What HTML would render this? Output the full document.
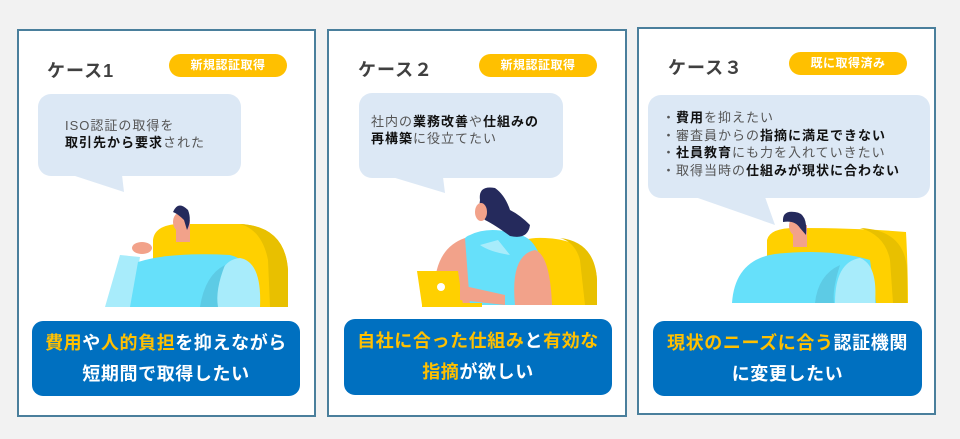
<!DOCTYPE html>
<html><head><meta charset="utf-8"><style>
body{margin:0;width:960px;height:439px;background:#f2f2f2;position:relative;overflow:hidden;font-family:"Liberation Sans","Noto Sans CJK JP",sans-serif}
.p{position:absolute;background:#fff;border:2px solid #4a7f9c;box-sizing:border-box}
.a{position:absolute}
.t{font-size:18px;font-weight:bold;color:#404040;white-space:nowrap;letter-spacing:1px}
.bd{background:#FFC000;color:#fff;border-radius:12px;font-size:12px;font-weight:bold;text-align:center;line-height:23px;height:23px;width:118px;letter-spacing:0.5px}
.bb{background:#dce8f5;border-radius:13px}
.bt{font-size:13px;color:#555;line-height:17px;white-space:nowrap;letter-spacing:1px}
.bt b{color:#111}
.bl{background:#0070C0;border-radius:11px;color:#fff;font-size:18px;font-weight:bold;text-align:center;line-height:31px;padding-top:7px;box-sizing:border-box;white-space:nowrap;letter-spacing:0.6px}
.y{color:#FFC000}
</style></head><body>
<div class="p" style="left:17px;top:29px;width:299px;height:388px"></div>
<div class="p" style="left:327px;top:29px;width:300px;height:388px"></div>
<div class="p" style="left:637px;top:27px;width:299px;height:388px"></div>

<svg class="a" style="left:0;top:0" width="960" height="439">
<polygon points="72,175 122,175 124,192" fill="#dce8f5"/>
<polygon points="392,177 443,177 445,193" fill="#dce8f5"/>
<polygon points="695,197 765,197 775,225" fill="#dce8f5"/>
<path d="M153,307 L153,240 Q155,222 190,224 L240,224 Q285,226 288,270 L288,307Z" fill="#FFD000"/>
<path d="M240,224 Q285,226 288,270 L288,307 L270,307 L268,260 Q262,230 240,224Z" fill="#E8C000"/>
<rect x="176" y="220" width="14" height="22" fill="#F2A28A"/>
<ellipse cx="181" cy="222" rx="8" ry="10" fill="#F2A28A"/>
<path d="M173,212 Q178,200 188,210 Q192,220 187,230 L184,220 Q178,214 173,212Z" fill="#252A5C"/>
<path d="M105,307 L120,255 L140,257 L132,307Z" fill="#A8ECFB"/>
<ellipse cx="142" cy="248" rx="10" ry="6" fill="#F2A28A"/>
<path d="M130,307 L138,262 Q170,252 230,255 Q258,262 260,307Z" fill="#66E0FA"/>
<path d="M215,307 Q215,260 240,258 Q262,262 260,307Z" fill="#A8ECFB"/>
<path d="M200,307 Q205,275 225,265 Q215,290 218,307Z" fill="#5DCBE5"/>
<path d="M520,305 L520,245 Q522,237 545,238 Q595,240 597,280 L597,305Z" fill="#FFD000"/>
<path d="M560,238 Q595,242 597,280 L597,305 L585,305 L580,260 Q575,242 560,238Z" fill="#E8C000"/>
<path d="M455,305 Q452,240 470,235 Q490,225 520,235 Q545,240 548,305Z" fill="#66E0FA"/>
<path d="M435,305 Q430,250 465,238 L470,305Z" fill="#F2A28A"/>
<path d="M515,305 Q510,255 535,250 Q550,255 552,305Z" fill="#F2A28A"/>
<path d="M480,245 L498,240 L510,255 Q490,252 480,245Z" fill="#A8ECFB"/>
<path d="M480,200 Q478,185 495,188 Q505,195 510,210 Q520,215 530,225 Q528,240 510,236 Q495,225 485,220 Q478,212 480,200Z" fill="#252A5C"/>
<ellipse cx="481" cy="212" rx="6" ry="9" fill="#F2A28A"/>
<polygon points="417,271 458,271 463,305 422,305" fill="#FFD000"/>
<rect x="422" y="303" width="60" height="4" fill="#FFD000"/>
<circle cx="441" cy="287" r="4" fill="#fff"/>
<path d="M460,285 L505,295 L505,305 L460,300Z" fill="#F2A28A"/>
<path d="M767,303 L767,240 Q770,227 800,228 Q860,228 906,232 Q908,270 908,303Z" fill="#FFD000"/>
<path d="M860,228 Q905,230 907,270 L907,303 L893,303 L890,260 Q885,235 860,228Z" fill="#E8C000"/>
<rect x="793" y="225" width="14" height="22" fill="#F2A28A"/>
<ellipse cx="797" cy="226" rx="8" ry="10" fill="#F2A28A"/>
<path d="M783,222 Q782,210 795,212 Q808,213 806,235 L800,228 Q795,220 783,222Z" fill="#252A5C"/>
<path d="M732,303 Q735,260 775,254 Q830,248 870,260 L876,303Z" fill="#66E0FA"/>
<path d="M835,303 Q835,262 860,258 Q878,265 875,303Z" fill="#A8ECFB"/>
<path d="M815,303 Q818,275 840,265 Q832,290 834,303Z" fill="#5DCBE5"/>
</svg>

<div class="a t" style="left:47px;top:57px">ケース1</div>
<div class="a bd" style="left:169px;top:54px">新規認証取得</div>
<div class="a bb" style="left:38px;top:94px;width:203px;height:82px"></div>
<div class="a bt" style="left:65px;top:117px">ISO認証の取得を<br><b>取引先から要求</b>された</div>
<div class="a bl" style="left:32px;top:321px;width:268px;height:75px"><span class="y">費用</span>や<span class="y">人的負担</span>を抑えながら<br>短期間で取得したい</div>

<div class="a t" style="left:358px;top:56px">ケース２</div>
<div class="a bd" style="left:479px;top:54px">新規認証取得</div>
<div class="a bb" style="left:359px;top:93px;width:204px;height:85px"></div>
<div class="a bt" style="left:371px;top:113px">社内の<b>業務改善</b>や<b>仕組みの</b><br><b>再構築</b>に役立てたい</div>
<div class="a bl" style="left:344px;top:319px;width:268px;height:76px"><span class="y">自社に合った仕組み</span>と<span class="y">有効な</span><br><span class="y">指摘</span>が欲しい</div>

<div class="a t" style="left:668px;top:54px">ケース３</div>
<div class="a bd" style="left:789px;top:52px">既に取得済み</div>
<div class="a bb" style="left:648px;top:95px;width:282px;height:103px"></div>
<div class="a bt" style="left:662px;top:109px;line-height:17.5px">・<b>費用</b>を抑えたい<br>・審査員からの<b>指摘に満足できない</b><br>・<b>社員教育</b>にも力を入れていきたい<br>・取得当時の<b>仕組みが現状に合わない</b></div>
<div class="a bl" style="left:653px;top:321px;width:269px;height:75px"><span class="y">現状のニーズに合う</span>認証機関<br>に変更したい</div>
</body></html>
